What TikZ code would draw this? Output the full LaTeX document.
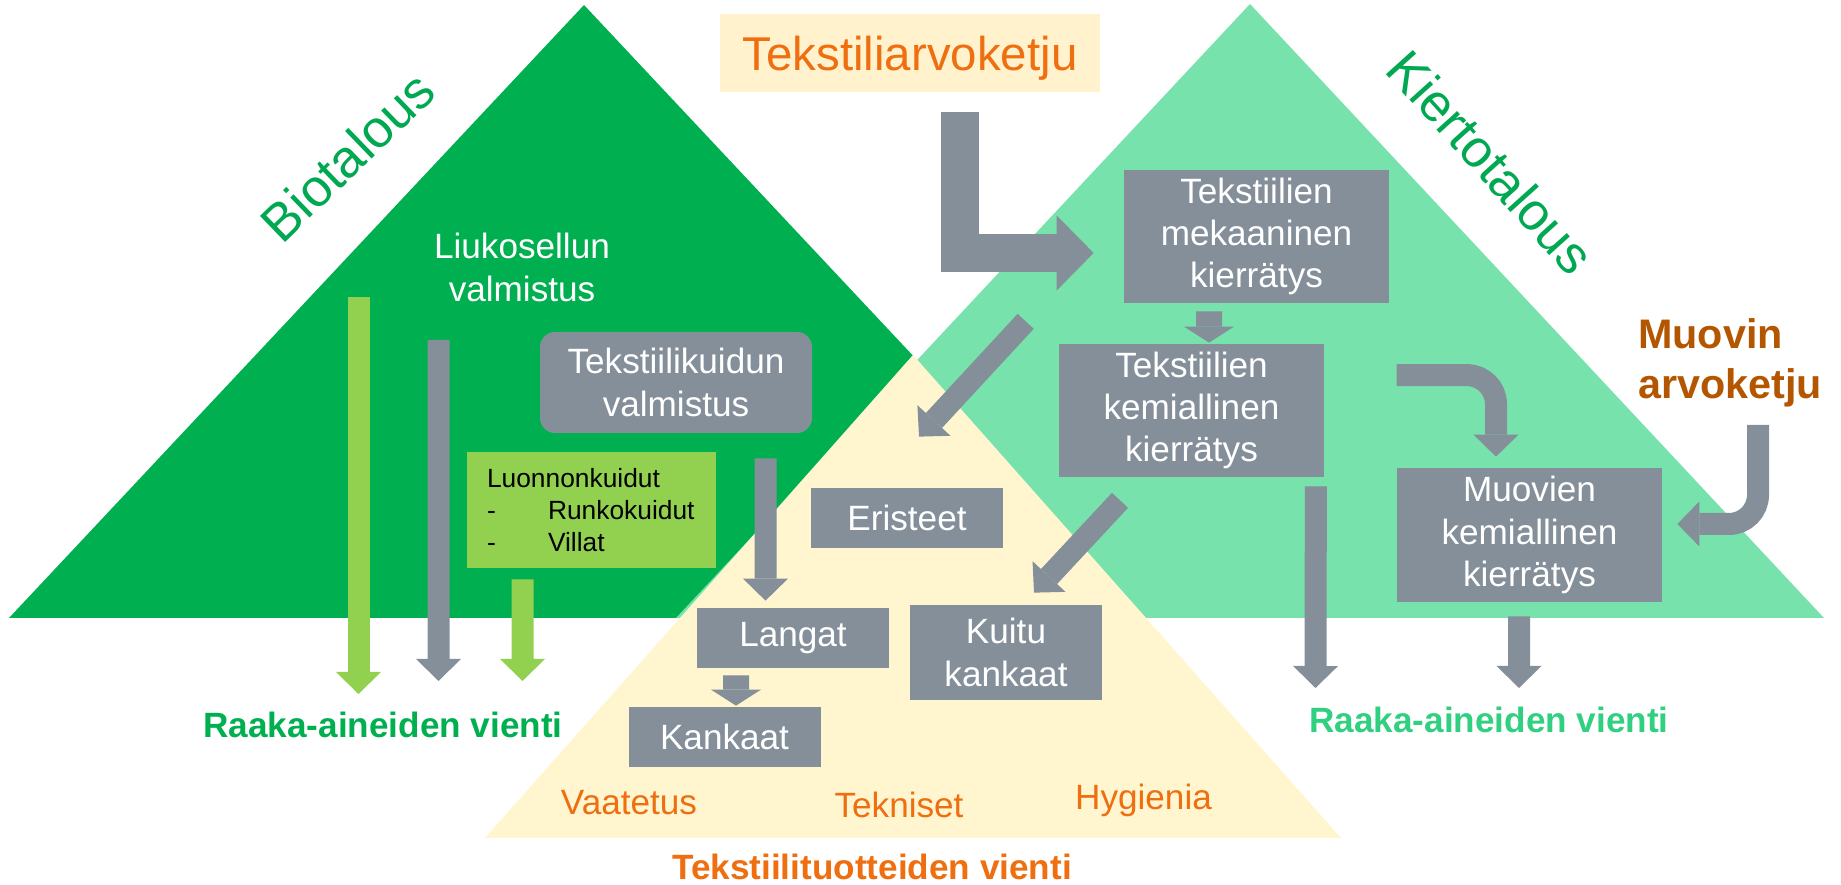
\documentclass[tikz,border=0pt]{standalone}
\usepackage{fontspec}
\setmainfont{Liberation Sans}
\usetikzlibrary{arrows.meta, positioning, calc}

\definecolor{bioGreen}{RGB}{0,176,80}
\definecolor{circGreen}{RGB}{120,226,172}
\definecolor{prodYellow}{RGB}{255,246,208}
\definecolor{titleYellow}{RGB}{255,242,204}
\definecolor{boxGray}{RGB}{132,143,153}
\definecolor{fibGreen}{RGB}{146,208,80}
\definecolor{txtOrange}{RGB}{238,110,16}
\definecolor{muovBrown}{RGB}{180,85,0}
\definecolor{bioText}{RGB}{0,168,81}
\definecolor{circText}{RGB}{48,208,128}

\begin{document}
\begin{tikzpicture}[
    every node/.style={font=\fontsize{20}{24}\selectfont},
    gbox/.style={fill=boxGray, text=white, minimum width=3.84cm, minimum height=1.2cm, inner sep=2pt, align=center},
    bigbox/.style={gbox, minimum width=5.3cm, minimum height=2.66cm},
    lbl/.style={inner sep=0pt, anchor=base},
    orlbl/.style={lbl, text=txtOrange},
    outlbl/.style={lbl, font=\bfseries\fontsize{20}{24}\selectfont},
    blk/.style={draw=boxGray, line width=4.4mm, -{Triangle[width=9mm, length=4.4mm, line width=0pt]}},
    lgblk/.style={blk, draw=fibGreen},
    smblk/.style={draw=boxGray, line width=5.2mm, -{Triangle[width=10mm, length=3.2mm, line width=0pt]}},
    bigblk/.style={draw=boxGray, line width=7.7mm, -{Triangle[width=15mm, length=7.4mm, line width=0pt]}}
]
\useasboundingbox (0,0) rectangle (36.82,17.70);

% the three economies
\fill[bioGreen] (11.68,17.60) -- (0.18,5.34) -- (23.18,5.34) -- cycle;
\fill[circGreen] (25.00,17.62) -- (13.52,5.34) -- (36.48,5.34) -- cycle;
\fill[prodYellow] (18.26,10.60) -- (9.70,0.94) -- (26.82,0.94) -- cycle;

\node[fill=titleYellow, minimum width=7.6cm, minimum height=1.56cm, text=txtOrange, font=\fontsize{27}{32}\selectfont,
    text height=0.8cm, text depth=0.08cm] (ttl) at (18.20,16.64) {Tekstiliarvoketju};
\node[rotate=44, text=bioText, font=\fontsize{30}{36}\selectfont] (bio) at (6.95,14.57) {Biotalous};
\node[rotate=-48, text=bioText, font=\fontsize{30}{36}\selectfont] (kierto) at (29.82,14.46) {Kiertotalous};

\node[text=white, align=center] (liuko) at (10.44,12.35) {Liukosellun\\valmistus};
\node[gbox, rounded corners=3mm, minimum width=5.44cm, minimum height=2.02cm] (kuidun) at (13.52,10.05) {Tekstiilikuidun\\valmistus};
\node[fill=fibGreen, minimum width=4.98cm, minimum height=2.32cm, text width=4.18cm, align=left, inner sep=0pt,
    font=\fontsize{15}{18}\selectfont] (luonnon) at (11.83,7.50)
    {Luonnonkuidut\\\makebox[1.22cm][l]{-}Runkokuidut\\\makebox[1.22cm][l]{-}Villat};

\node[gbox] (erist) at (18.14,7.34) {Eristeet};
\node[gbox] (langat) at (15.86,4.94) {Langat};
\node[gbox] (kankaat) at (14.49,2.96) {Kankaat};
\node[gbox, minimum height=1.9cm] (kuitu) at (20.12,4.65) {Kuitu\\kankaat};

\node[bigbox] (mek) at (25.13,12.97) {Tekstiilien\\mekaaninen\\kierrätys};
\node[bigbox] (kem) at (23.83,9.49) {Tekstiilien\\kemiallinen\\kierrätys};
\node[bigbox, minimum height=2.68cm] (muov) at (30.59,7.00) {Muovien\\kemiallinen\\kierrätys};

\node[outlbl, text=bioGreen] (raakaL) at (7.66,2.94) {Raaka-aineiden vienti};
\node[outlbl, text=circText] (raakaR) at (29.78,3.04) {Raaka-aineiden vienti};
\node[outlbl, text=txtOrange] (tuote) at (17.44,0.10) {Tekstiilituotteiden vienti};
\node[orlbl] (vaate) at (12.58,1.40) {Vaatetus};
\node[orlbl] (tekn) at (17.98,1.34) {Tekniset};
\node[orlbl] (hyg) at (22.87,1.50) {Hygienia};
\node[lbl, anchor=north west, align=left, text=muovBrown, font=\bfseries\fontsize{23.5}{28.5}\selectfont] (muovin) at (32.76,11.34) {Muovin\\arvoketju};

% flows
\coordinate (natf) at (7.17,11.76);
\draw[lgblk] (natf) -- ($(raakaL.base)+(-0.49,0.88)$);
\draw[blk] ($(liuko.center)+(-1.67,-1.45)$) -- ($(raakaL.base)+(1.11,1.14)$);
\draw[lgblk] ($(luonnon.south)+(-1.38,-0.22)$) -- ($(raakaL.base)+(2.79,1.14)$);
\draw[blk] ($(kuidun.south)+(1.79,-0.50)$) -- ($(langat.north)+(-0.55,0.14)$);
\draw[smblk] ($(langat.south)+(-1.14,-0.14)$) -- ($(kankaat.north)+(0.23,0.02)$);

\draw[bigblk] ($(ttl.south)+(1.00,-0.40)$) |- ($(mek.west)+(-0.60,-0.33)$);
\draw[smblk] ($(mek.south)+(-0.95,-0.16)$) -- ($(kem.north)+(0.35,0.02)$);
\draw[blk] ($(mek.south west)+(-1.96,-0.36)$) -- ($(erist.north)+(0.24,1.02)$);
\draw[blk] ($(kem.south)+(-1.43,-0.46)$) -- ($(kuitu.north)+(0.56,0.24)$);
\draw[blk] ($(kem.south east)+(-0.17,-0.18)$) -- ($(raakaR.base)+(-3.47,0.90)$);
\draw[blk, rounded corners=5.8mm] ($(muov.north west)+(0,1.85)$) -| ($(muov.north)+(-0.67,0.22)$);
\draw[blk, rounded corners=5.8mm] ($(muovin.north west)+(2.40,-2.14)$) |- ($(muov.east)+(0.30,0.22)$);
\draw[blk] ($(muov.south)+(-0.21,-0.28)$) -- ($(raakaR.base)+(0.60,0.90)$);
\end{tikzpicture}
\end{document}
